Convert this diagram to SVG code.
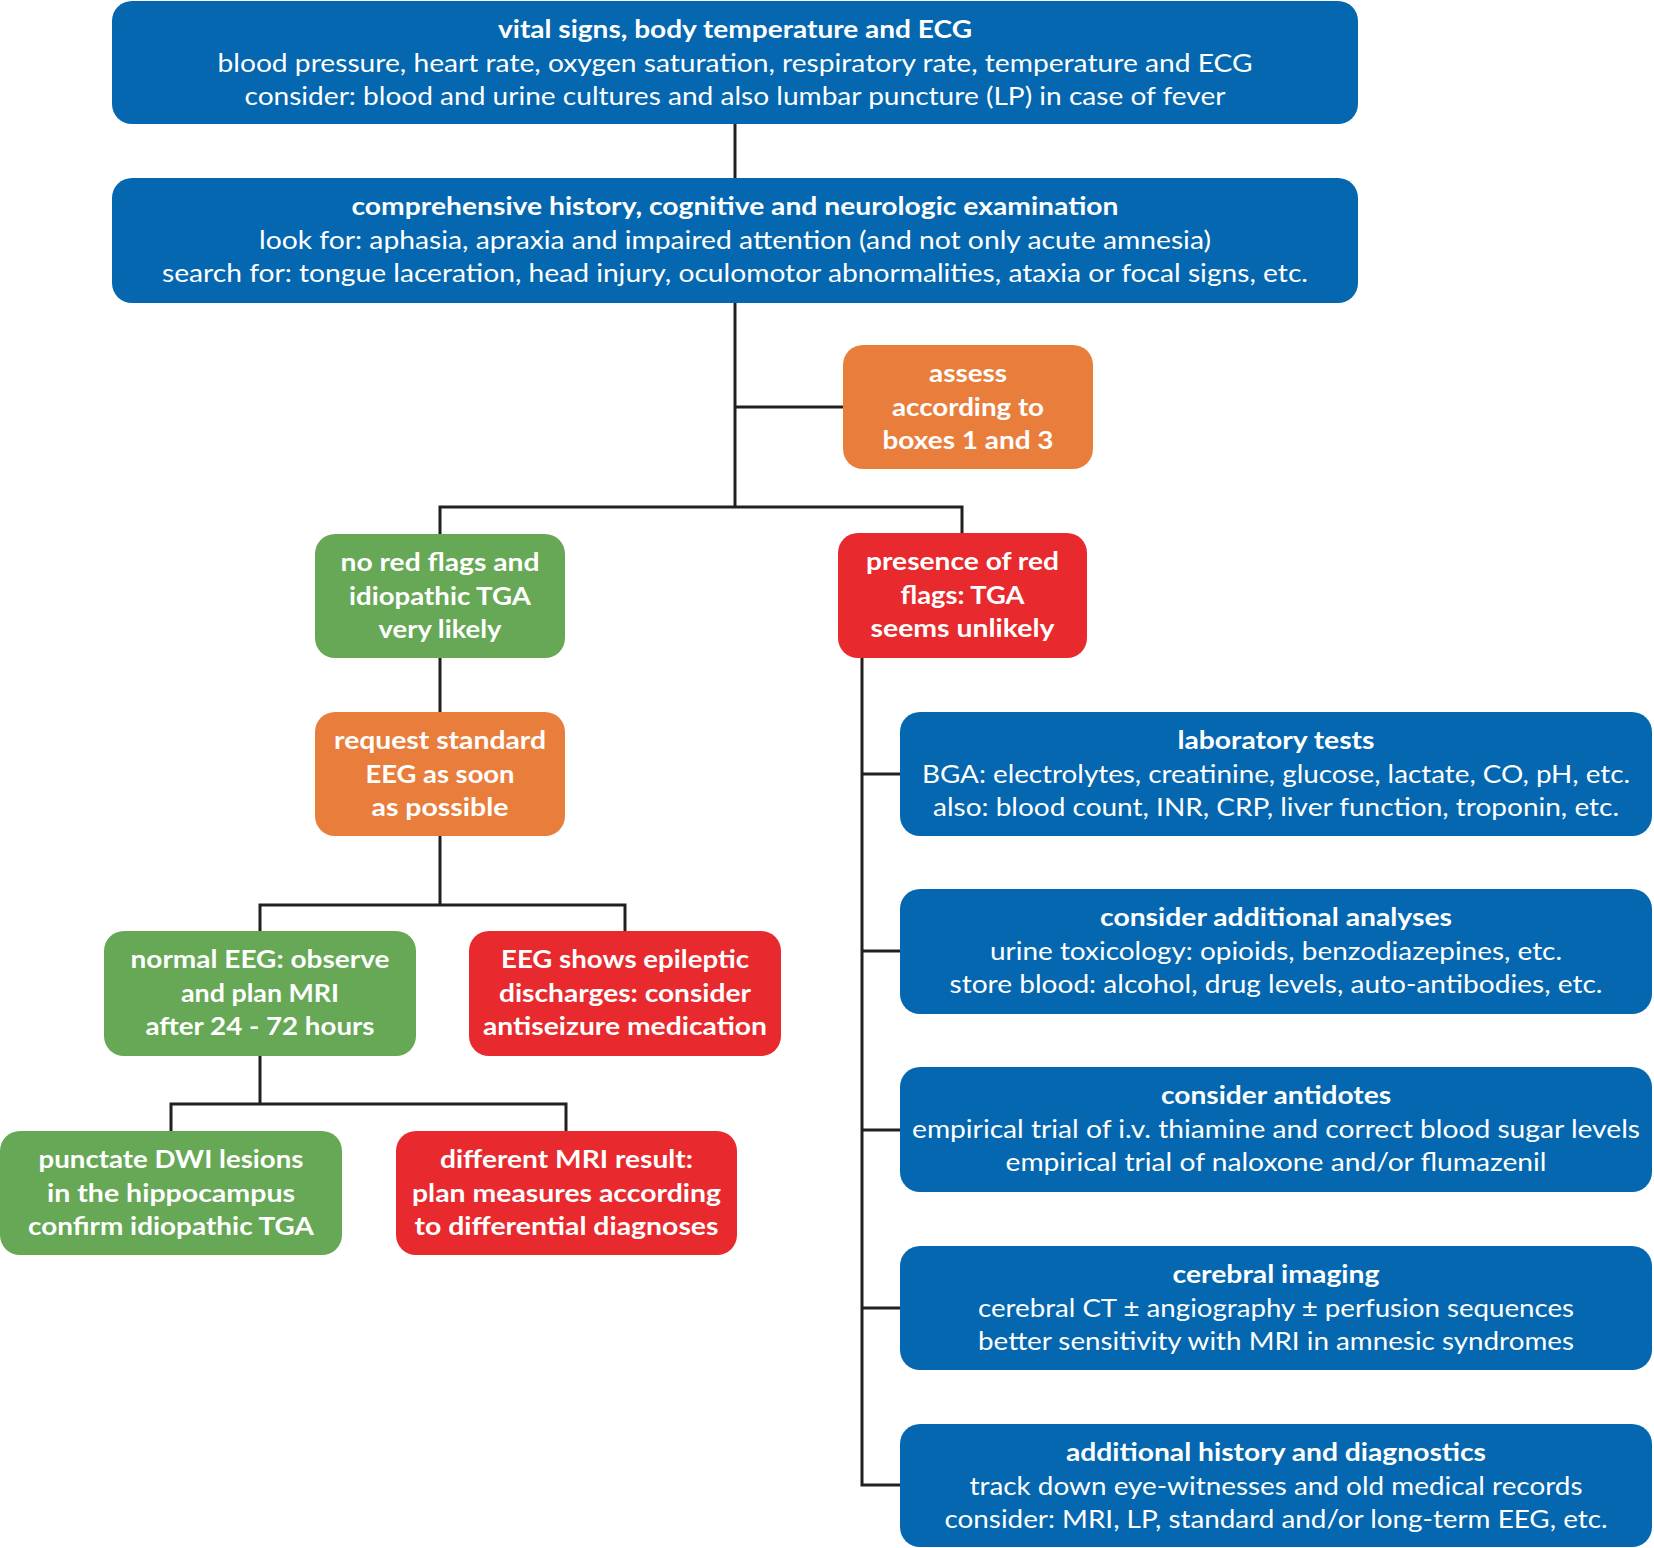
<svg xmlns="http://www.w3.org/2000/svg" width="1654" height="1548" viewBox="0 0 1654 1548">
<style>
.blue{fill:#0467AF}
.orange{fill:#E97E3C}
.green{fill:#66A855}
.red{fill:#E8292D}
text{font-family:Lato,"Open Sans","Liberation Sans",sans-serif;font-size:25.5px;fill:#FFFFFF;text-anchor:middle}
.b{font-weight:bold}
.conn{fill:none;stroke:#231F20;stroke-width:3}
</style>
<rect width="1654" height="1548" fill="#FFFFFF"/>
<g id="connectors" class="conn">
<path d="M735 124V178"/>
<path d="M735 303V507"/>
<path d="M735 407H843"/>
<path d="M440 534V507H962V533"/>
<path d="M440 658V712"/>
<path d="M440 836V905"/>
<path d="M260 931V905H625V931"/>
<path d="M260 1056V1104"/>
<path d="M171 1131V1104H566V1131"/>
<path d="M862 658V1485H900"/>
<path d="M862 774H900"/>
<path d="M862 951H900"/>
<path d="M862 1130H900"/>
<path d="M862 1308H900"/>
</g>
<g id="vital-signs">
<rect class="blue" x="112" y="1" width="1246" height="123" rx="20"/>
<text class="b" x="735" y="38" textLength="474" lengthAdjust="spacingAndGlyphs">vital signs, body temperature and ECG</text>
<text x="735" y="71.5" textLength="1035" lengthAdjust="spacingAndGlyphs">blood pressure, heart rate, oxygen saturation, respiratory rate, temperature and ECG</text>
<text x="735" y="104.5" textLength="981" lengthAdjust="spacingAndGlyphs">consider: blood and urine cultures and also lumbar puncture (LP) in case of fever</text>
</g>
<g id="history-exam">
<rect class="blue" x="112" y="178" width="1246" height="125" rx="20"/>
<text class="b" x="735" y="215" textLength="767" lengthAdjust="spacingAndGlyphs">comprehensive history, cognitive and neurologic examination</text>
<text x="735" y="248.5" textLength="952" lengthAdjust="spacingAndGlyphs">look for: aphasia, apraxia and impaired attention (and not only acute amnesia)</text>
<text x="735" y="281.5" textLength="1146" lengthAdjust="spacingAndGlyphs">search for: tongue laceration, head injury, oculomotor abnormalities, ataxia or focal signs, etc.</text>
</g>
<g id="assess">
<rect class="orange" x="843" y="345" width="250" height="124" rx="20"/>
<text class="b" x="968" y="382" textLength="78" lengthAdjust="spacingAndGlyphs">assess</text>
<text class="b" x="968" y="415.5" textLength="152" lengthAdjust="spacingAndGlyphs">according to</text>
<text class="b" x="968" y="448.5" textLength="171" lengthAdjust="spacingAndGlyphs">boxes 1 and 3</text>
</g>
<g id="no-red-flags">
<rect class="green" x="315" y="534" width="250" height="124" rx="20"/>
<text class="b" x="440" y="571" textLength="199" lengthAdjust="spacingAndGlyphs">no red flags and</text>
<text class="b" x="440" y="604.5" textLength="182" lengthAdjust="spacingAndGlyphs">idiopathic TGA</text>
<text class="b" x="440" y="637.5" textLength="123" lengthAdjust="spacingAndGlyphs">very likely</text>
</g>
<g id="red-flags">
<rect class="red" x="838" y="533" width="249" height="125" rx="20"/>
<text class="b" x="962.5" y="570" textLength="193" lengthAdjust="spacingAndGlyphs">presence of red</text>
<text class="b" x="962.5" y="603.5" textLength="124" lengthAdjust="spacingAndGlyphs">flags: TGA</text>
<text class="b" x="962.5" y="636.5" textLength="184" lengthAdjust="spacingAndGlyphs">seems unlikely</text>
</g>
<g id="request-eeg">
<rect class="orange" x="315" y="712" width="250" height="124" rx="20"/>
<text class="b" x="440" y="749" textLength="212" lengthAdjust="spacingAndGlyphs">request standard</text>
<text class="b" x="440" y="782.5" textLength="149" lengthAdjust="spacingAndGlyphs">EEG as soon</text>
<text class="b" x="440" y="815.5" textLength="137" lengthAdjust="spacingAndGlyphs">as possible</text>
</g>
<g id="normal-eeg">
<rect class="green" x="104" y="931" width="312" height="125" rx="20"/>
<text class="b" x="260" y="968" textLength="259" lengthAdjust="spacingAndGlyphs">normal EEG: observe</text>
<text class="b" x="260" y="1001.5" textLength="158" lengthAdjust="spacingAndGlyphs">and plan MRI</text>
<text class="b" x="260" y="1034.5" textLength="229" lengthAdjust="spacingAndGlyphs">after 24 - 72 hours</text>
</g>
<g id="epileptic-eeg">
<rect class="red" x="469" y="931" width="312" height="125" rx="20"/>
<text class="b" x="625" y="968" textLength="248" lengthAdjust="spacingAndGlyphs">EEG shows epileptic</text>
<text class="b" x="625" y="1001.5" textLength="252" lengthAdjust="spacingAndGlyphs">discharges: consider</text>
<text class="b" x="625" y="1034.5" textLength="284" lengthAdjust="spacingAndGlyphs">antiseizure medication</text>
</g>
<g id="dwi-lesions">
<rect class="green" x="0" y="1131" width="342" height="124" rx="20"/>
<text class="b" x="171" y="1168" textLength="265" lengthAdjust="spacingAndGlyphs">punctate DWI lesions</text>
<text class="b" x="171" y="1201.5" textLength="248" lengthAdjust="spacingAndGlyphs">in the hippocampus</text>
<text class="b" x="171" y="1234.5" textLength="286" lengthAdjust="spacingAndGlyphs">confirm idiopathic TGA</text>
</g>
<g id="different-mri">
<rect class="red" x="396" y="1131" width="341" height="124" rx="20"/>
<text class="b" x="566.5" y="1168" textLength="253" lengthAdjust="spacingAndGlyphs">different MRI result:</text>
<text class="b" x="566.5" y="1201.5" textLength="309" lengthAdjust="spacingAndGlyphs">plan measures according</text>
<text class="b" x="566.5" y="1234.5" textLength="304" lengthAdjust="spacingAndGlyphs">to differential diagnoses</text>
</g>
<g id="laboratory-tests">
<rect class="blue" x="900" y="712" width="752" height="124" rx="20"/>
<text class="b" x="1276" y="749" textLength="197" lengthAdjust="spacingAndGlyphs">laboratory tests</text>
<text x="1276" y="782.5" textLength="708" lengthAdjust="spacingAndGlyphs">BGA: electrolytes, creatinine, glucose, lactate, CO, pH, etc.</text>
<text x="1276" y="815.5" textLength="686" lengthAdjust="spacingAndGlyphs">also: blood count, INR, CRP, liver function, troponin, etc.</text>
</g>
<g id="additional-analyses">
<rect class="blue" x="900" y="889" width="752" height="125" rx="20"/>
<text class="b" x="1276" y="926" textLength="352" lengthAdjust="spacingAndGlyphs">consider additional analyses</text>
<text x="1276" y="959.5" textLength="572" lengthAdjust="spacingAndGlyphs">urine toxicology: opioids, benzodiazepines, etc.</text>
<text x="1276" y="992.5" textLength="653" lengthAdjust="spacingAndGlyphs">store blood: alcohol, drug levels, auto-antibodies, etc.</text>
</g>
<g id="antidotes">
<rect class="blue" x="900" y="1067" width="752" height="125" rx="20"/>
<text class="b" x="1276" y="1104" textLength="230" lengthAdjust="spacingAndGlyphs">consider antidotes</text>
<text x="1276" y="1137.5" textLength="728" lengthAdjust="spacingAndGlyphs">empirical trial of i.v. thiamine and correct blood sugar levels</text>
<text x="1276" y="1170.5" textLength="541" lengthAdjust="spacingAndGlyphs">empirical trial of naloxone and/or flumazenil</text>
</g>
<g id="cerebral-imaging">
<rect class="blue" x="900" y="1246" width="752" height="124" rx="20"/>
<text class="b" x="1276" y="1283" textLength="207" lengthAdjust="spacingAndGlyphs">cerebral imaging</text>
<text x="1276" y="1316.5" textLength="596" lengthAdjust="spacingAndGlyphs">cerebral CT ± angiography ± perfusion sequences</text>
<text x="1276" y="1349.5" textLength="596" lengthAdjust="spacingAndGlyphs">better sensitivity with MRI in amnesic syndromes</text>
</g>
<g id="additional-history">
<rect class="blue" x="900" y="1424" width="752" height="123" rx="20"/>
<text class="b" x="1276" y="1461" textLength="420" lengthAdjust="spacingAndGlyphs">additional history and diagnostics</text>
<text x="1276" y="1494.5" textLength="613" lengthAdjust="spacingAndGlyphs">track down eye-witnesses and old medical records</text>
<text x="1276" y="1527.5" textLength="663" lengthAdjust="spacingAndGlyphs">consider: MRI, LP, standard and/or long-term EEG, etc.</text>
</g>
</svg>
